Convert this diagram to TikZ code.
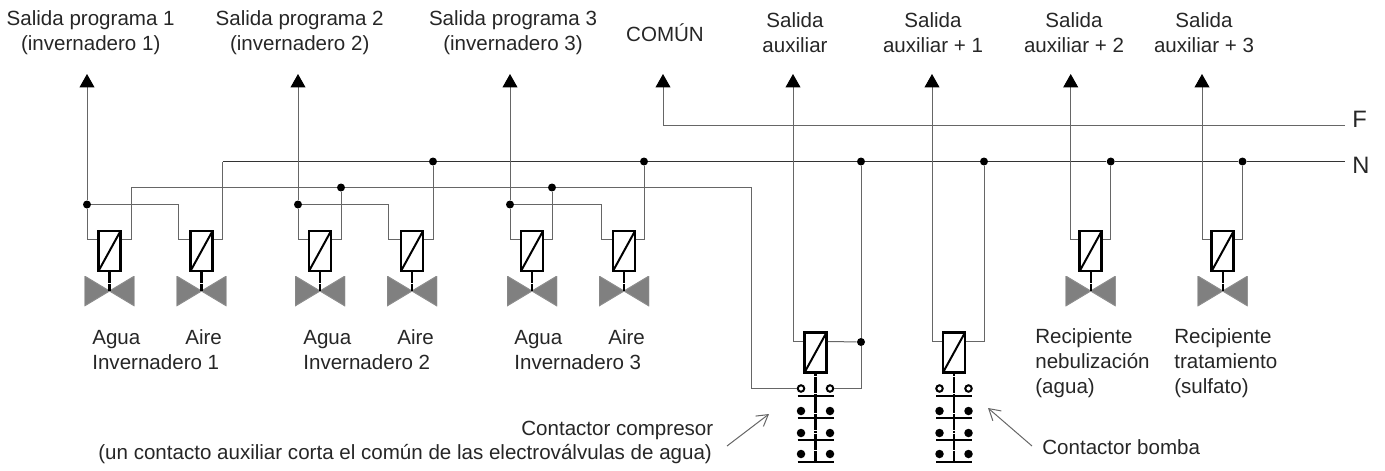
\documentclass[tikz,border=0pt]{standalone}
\usepackage{fontspec}
\setmainfont{Liberation Sans}
\usetikzlibrary{arrows.meta}

\tikzset{
  wire/.style={line width=0.02cm, black!60},
  nwire/.style={line width=0.018cm, black!80},
  outwire/.style={wire, -{Triangle[width=0.3cm,length=0.27cm,color=black]}},
  dot/.style={circle, fill=black, inner sep=0pt, minimum size=0.16cm},
  opendot/.style={circle, draw=black, fill=white, line width=0.04cm, inner sep=0pt, minimum size=0.13cm},
  bigdot/.style={circle, fill=black, inner sep=0pt, minimum size=0.17cm},
  coil/.style={draw, fill=white, line width=0.05cm, inner sep=0pt, minimum width=0.44cm, minimum height=0.8cm,
    path picture={\draw[line width=0.04cm] (path picture bounding box.south west) -- (path picture bounding box.north east);}},
  valve/.style={inner sep=0pt, minimum width=1cm, minimum height=0.6cm,
    path picture={\draw[fill=black!50, draw=black!45, line width=0.02cm]
      (path picture bounding box.north west) -- (path picture bounding box.south east)
      -- (path picture bounding box.north east) -- (path picture bounding box.south west) -- cycle;}},
  stem/.style={line width=0.045cm, dash pattern=on 1.5pt off 0.12pt},
  bar/.style={line width=0.05cm},
  txt/.style={font=\fontsize{11.7}{14.2}\selectfont, text=black!85, inner sep=0pt, align=center},
  txtl/.style={txt, align=left, anchor=west},
  txtb/.style={txt, anchor=base west},
  txtbig/.style={txtb, font=\fontsize{13.5}{14.2}\selectfont},
  pointer/.style={line width=0.02cm, black!60, -{Straight Barb[length=0.22cm,width=0.26cm]}}
}

\begin{document}
\begin{tikzpicture}[x=0.02cm,y=-0.02cm]
  \useasboundingbox (0,0) rectangle (1385,470);
  % Coils and valves
  \foreach \n/\x in {1/109.5,2/201.5,3/320,4/412,5/532,6/624,7/1090.7,8/1222.7} {
    \node[valve] (v\n) at (\x,291) {};
    \node[coil] (c\n) at (\x,251) {};
    \draw[stem] (c\n.south) -- (v\n.center);
    \coordinate (c\n l) at ([yshift=0.24cm]c\n.west);
    \coordinate (c\n r) at ([yshift=0.24cm]c\n.east);
  }
  % Contactors
  \foreach \n/\x in {9/815.5,10/954} {
    \node[coil] (c\n) at (\x,352.5) {};
    \coordinate (c\n l) at ([yshift=0.22cm]c\n.west);
    \coordinate (c\n r) at ([yshift=0.22cm]c\n.east);
    \coordinate (s\n) at (\x,463);
    \draw[stem] (c\n.south) -- (s\n);
    \foreach \y in {396,418,440,462}
      \draw[bar] (\x-18,\y) -- (\x+18,\y);
    \foreach \y in {411,433,454} {
      \node[bigdot] at (\x-14.5,\y) {};
      \node[bigdot] at (\x+14.5,\y) {};
    }
    \node[opendot] (k\n l) at (\x-14.5,388.5) {};
    \node[opendot] (k\n r) at (\x+14.5,388.5) {};
  }
  % Outputs
  \foreach \n/\x in {1/87,2/298,3/510,5/793,6/932,7/1070.7,8/1202}
    \coordinate (a\n) at (\x,74);
  \coordinate (a4) at (663,74);
  % Junctions
  \node[dot] (j1) at (87,204.5) {};
  \node[dot] (j2) at (298,204.5) {};
  \node[dot] (j3) at (510,204.5) {};
  \node[dot] (w1) at (341,187.5) {};
  \node[dot] (w2) at (552,187.5) {};
  \node[dot] (n1) at (433,161.5) {};
  \node[dot] (n2) at (644,161.5) {};
  \node[dot] (n3) at (861,161.5) {};
  \node[dot] (n4) at (984,161.5) {};
  \node[dot] (n5) at (1110.7,161.5) {};
  \node[dot] (n6) at (1242.5,161.5) {};
  \node[dot] (m1) at (861,342) {};
  % Corners and line ends
  \coordinate (n0) at (222.7,161.5);
  \coordinate (e0) at (131,187.5);
  \coordinate (e1) at (751,187.5);
  \coordinate (q1) at (178,204.5);
  \coordinate (q2) at (388,204.5);
  \coordinate (q3) at (601,204.5);
  \coordinate (f0) at (663,125);
  \coordinate (f1) at (1345,125);
  \coordinate (n7) at (1345,161.5);
  % Lines F and N
  \draw[nwire] (n0) -- (n1) -- (n2) -- (n3) -- (n4) -- (n5) -- (n6) -- (n7);
  \draw[wire] (f1) -- (f0);
  \draw[outwire] (f0) -- (a4);
  % Group 1
  \draw[outwire] (j1) -- (a1);
  \draw[wire] (c1l) -| (j1);
  \draw[wire] (j1) -- (q1) |- (c2l);
  \draw[wire] (c1r) -| (e0) -- (w1) -- (w2) -- (e1) |- (k9l);
  \draw[wire] (c2r) -| (n0);
  % Group 2
  \draw[outwire] (j2) -- (a2);
  \draw[wire] (c3l) -| (j2);
  \draw[wire] (j2) -- (q2) |- (c4l);
  \draw[wire] (c3r) -| (w1);
  \draw[wire] (c4r) -| (n1);
  % Group 3
  \draw[outwire] (j3) -- (a3);
  \draw[wire] (c5l) -| (j3);
  \draw[wire] (j3) -- (q3) |- (c6l);
  \draw[wire] (c5r) -| (w2);
  \draw[wire] (c6r) -| (n2);
  % Contactors wiring
  \draw[outwire] (c9l) -| (a5);
  \draw[wire] (c9r) -- (m1);
  \draw[wire] (n3) -- (m1);
  \draw[wire] (m1) |- (k9r);
  \draw[outwire] (c10l) -| (a6);
  \draw[wire] (c10r) -| (n4);
  % Tanks
  \draw[outwire] (c7l) -| (a7);
  \draw[wire] (c7r) -| (n5);
  \draw[outwire] (c8l) -| (a8);
  \draw[wire] (c8r) -| (n6);
  % Text above
  \node[txt] (t1) at (90.7,32.5) {Salida programa 1\\(invernadero 1)};
  \node[txt] (t2) at (299.7,32.5) {Salida programa 2\\(invernadero 2)};
  \node[txt] (t3) at (513,32.5) {Salida programa 3\\(invernadero 3)};
  \node[txt] (t4) at (665,33) {COMÚN};
  \node[txt] (t5) at (795,32.5) {Salida\\auxiliar};
  \node[txt] (t6) at (933,32.5) {Salida\\auxiliar + 1};
  \node[txt] (t7) at (1074,32.5) {Salida\\auxiliar + 2};
  \node[txt] (t8) at (1204,32.5) {Salida\\auxiliar + 3};
  \node[txtbig] (tf) at (1352,127) {F};
  \node[txtbig] (tn) at (1352,173) {N};
  % Text below
  \node[txtb] (l1) at (92,344) {Agua};
  \node[txtb] (l2) at (185,344) {Aire};
  \node[txtb] (l3) at (92,369) {Invernadero 1};
  \node[txtb] (l4) at (303,344) {Agua};
  \node[txtb] (l5) at (397,344) {Aire};
  \node[txtb] (l6) at (303,369) {Invernadero 2};
  \node[txtb] (l7) at (514,344) {Agua};
  \node[txtb] (l8) at (608,344) {Aire};
  \node[txtb] (l9) at (514,369) {Invernadero 3};
  \node[txtl] (r1) at (1035,363.5) {Recipiente\\nebulización\\(agua)};
  \node[txtl] (r2) at (1174,363.5) {Recipiente\\tratamiento\\(sulfato)};
  \node[txtb] (p1) at (521,435) {Contactor compresor};
  \node[txtb] (p2) at (98,459) {(un contacto auxiliar corta el común de las electroválvulas de agua)};
  \node[txtb] (p3) at (1042,454.5) {Contactor bomba};
  % Pointers
  \coordinate (b1) at (727,446);
  \coordinate (b2) at (769,414);
  \coordinate (b3) at (1032,446);
  \coordinate (b4) at (988,408);
  \draw[pointer] (b1) -- (b2);
  \draw[pointer] (b3) -- (b4);
\end{tikzpicture}
\end{document}
